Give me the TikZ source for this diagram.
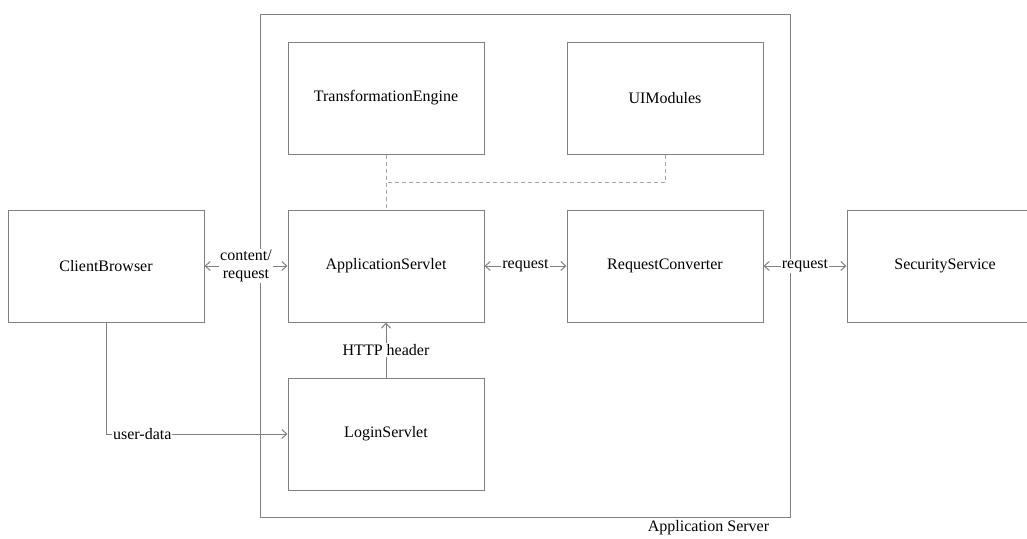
\documentclass[tikz,border=0pt]{standalone}
\usepackage{fontspec}
\setmainfont{Liberation Serif}
\usetikzlibrary{arrows.meta}
\definecolor{linegray}{RGB}{128,128,128}
\definecolor{dashgray}{RGB}{165,165,165}

\begin{document}
\begin{tikzpicture}[x=1pt, y=-1pt,
  every node/.style={font=\fontsize{16}{18}\selectfont},
  comp/.style={draw=linegray, line width=1pt, minimum width=196pt, minimum height=112pt, inner sep=0pt},
  link/.style={draw=linegray, line width=1pt, {Straight Barb[length=5pt,width=9pt]}-{Straight Barb[length=5pt,width=9pt]}},
  oneway/.style={draw=linegray, line width=1pt, -{Straight Barb[length=5pt,width=9pt]}},
  dep/.style={draw=dashgray, line width=1pt, dash pattern=on 4pt off 3pt},
  lbl/.style={fill=white, inner sep=1pt}]
\useasboundingbox (0,0) rectangle (1027,538);

%%% server frame %%%
\node[draw=linegray, line width=1pt, minimum width=530pt, minimum height=503pt] (server) at (525,265.5) {};
\node (serverlabel) at (708.5,528) {Application Server};

%%% components %%%
\node[comp] (client)    at (106,266) {ClientBrowser};
\node[comp] (transform) at (386,98)  {TransformationEngine};
\node[comp] (uimod)     at (665,98)  {UIModules};
\node[comp] (appserv)   at (386,266) {ApplicationServlet};
\node[comp] (reqconv)   at (665,266) {RequestConverter};
\node[comp] (secserv)   at (945,266) {SecurityService};
\node[comp] (login)     at (386,434) {LoginServlet};

%%% dependencies %%%
\draw[dep] (transform) -- coordinate[midway] (join) (appserv);
\draw[dep] (uimod) |- (join);

%%% requests %%%
\draw[link] (client) -- node[lbl, align=center] {content/\\request} (appserv);
\draw[link] (appserv) -- node[lbl] {request} (reqconv);
\draw[link] (reqconv) -- node[lbl] {request} (secserv);
\draw[oneway] (login) -- node[lbl] {HTTP header} (appserv);
\draw[oneway] (client) |- node[lbl, pos=0.6] {user-data} (login);

\end{tikzpicture}
\end{document}
